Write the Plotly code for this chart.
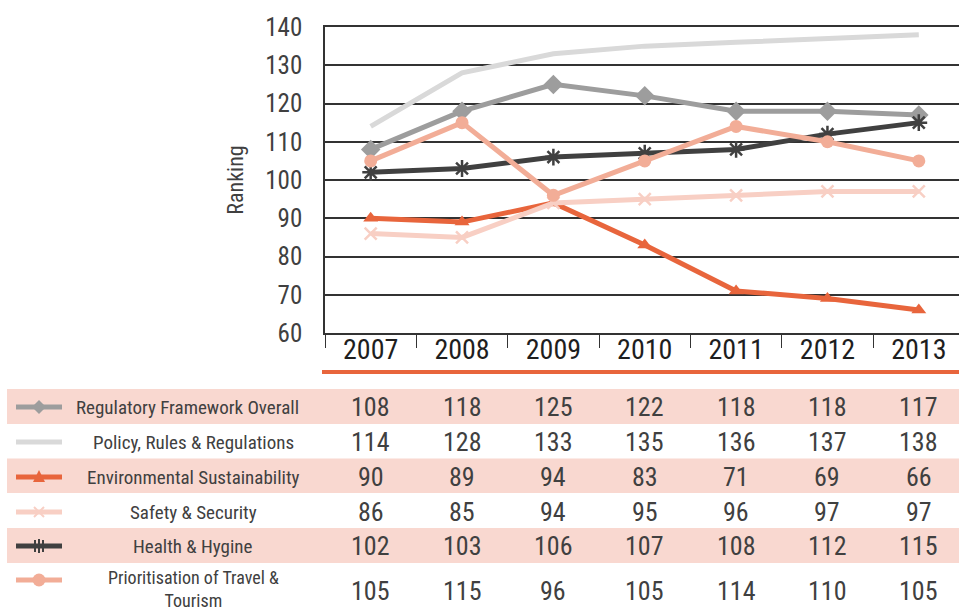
import plotly.graph_objects as go

years = ["2007", "2008", "2009", "2010", "2011", "2012", "2013"]
series_names = [
    "Regulatory Framework Overall",
    "Policy, Rules & Regulations",
    "Environmental Sustainability",
    "Safety & Security",
    "Health & Hygine",
    "Prioritisation of Travel &<br>Tourism",
]
regulatory = [108, 118, 125, 122, 118, 118, 117]
policy = [114, 128, 133, 135, 136, 137, 138]
environmental = [90, 89, 94, 83, 71, 69, 66]
safety = [86, 85, 94, 95, 96, 97, 97]
health = [102, 103, 106, 107, 108, 112, 115]
prioritisation = [105, 115, 96, 105, 114, 110, 105]
y_ticks = [60, 70, 80, 90, 100, 110, 120, 130, 140]

all_values = [regulatory, policy, environmental, safety, health, prioritisation]
colors = ["#9d9d9d", "#d9d9d9", "#e8653c", "#f8cfc4", "#404040", "#f2ad97"]
symbols = ["diamond", None, "triangle-up", "x-thin-open", "asterisk-open", "circle"]
msizes = [15, 0, 13, 12, 14, 13]

FONT = "Liberation Sans Narrow, Roboto Condensed, DejaVu Sans Condensed, Arial Narrow, Roboto, sans-serif"
TXT = "#404040"
PINK = "#f9d8d0"

W, H = 959, 613
L, R, T, B = 325, 0, 27, 280
PW, PH = W - L - R, H - T - B
XR = [-0.5, 6.44]


def px(x):
    return (x - L) / PW


def py(y):
    return (H - B - y) / PH


def cat_paper(i):
    # position of category i on the x axis, as a paper fraction (same range as the axis)
    return (i - XR[0]) / (XR[1] - XR[0])


fig = go.Figure()
for name, vals, c, s, ms in zip(series_names, all_values, colors, symbols, msizes):
    mode = "lines" if s is None else "lines+markers"
    marker = dict(size=ms, color=c, symbol=s or "circle",
                  line=dict(width=2.5 if s in ("x-thin-open", "asterisk-open") else 0, color=c))
    fig.add_trace(go.Scatter(x=years, y=vals, mode=mode, name=name.replace("<br>", " "),
                             line=dict(color=c, width=5), marker=marker,
                             showlegend=False, cliponaxis=False))

shapes = []
annotations = []

# orange separator under years
shapes.append(dict(type="line", xref="paper", yref="paper", x0=px(322), x1=px(960),
                   y0=py(372), y1=py(372), line=dict(color="#e8653c", width=4)))

row_tops = [389, 424, 458.5, 493, 528, 563]
row_bots = [424, 458.5, 493, 528, 563, 613]
row_centers = [407, 442, 477, 512, 546, 591]
for i in (0, 2, 4):
    shapes.append(dict(type="rect", xref="paper", yref="paper", x0=px(7), x1=px(960),
                       y0=py(row_bots[i]), y1=py(row_tops[i]), fillcolor=PINK,
                       line=dict(width=0), layer="below"))

mx = 39
for i, (name, vals, c, s) in enumerate(zip(series_names, all_values, colors, symbols)):
    yc = row_centers[i] if i < 5 else 580
    # legend sample line
    shapes.append(dict(type="line", xref="paper", yref="paper", x0=px(16), x1=px(62),
                       y0=py(yc), y1=py(yc), line=dict(color=c, width=5)))
    if s == "diamond":
        d = 7
        path = f"M {px(mx-d)},{py(yc)} L {px(mx)},{py(yc-d)} L {px(mx+d)},{py(yc)} L {px(mx)},{py(yc+d)} Z"
        shapes.append(dict(type="path", xref="paper", yref="paper", path=path, fillcolor=c, line=dict(width=0)))
    elif s == "triangle-up":
        d = 6
        path = f"M {px(mx-d)},{py(yc+5)} L {px(mx)},{py(yc-7)} L {px(mx+d)},{py(yc+5)} Z"
        shapes.append(dict(type="path", xref="paper", yref="paper", path=path, fillcolor=c, line=dict(width=0)))
    elif s == "x-thin-open":
        d = 5
        path = (f"M {px(mx-d)},{py(yc-d)} L {px(mx+d)},{py(yc+d)} "
                f"M {px(mx-d)},{py(yc+d)} L {px(mx+d)},{py(yc-d)}")
        shapes.append(dict(type="path", xref="paper", yref="paper", path=path, line=dict(color=c, width=2)))
    elif s == "asterisk-open":
        d = 6
        path = (f"M {px(mx-4)},{py(yc-d)} L {px(mx-4)},{py(yc+d)} "
                f"M {px(mx+4)},{py(yc-d)} L {px(mx+4)},{py(yc+d)} "
                f"M {px(mx)},{py(yc-d-1)} L {px(mx)},{py(yc+d+1)}")
        shapes.append(dict(type="path", xref="paper", yref="paper", path=path, line=dict(color=c, width=2)))
    elif s == "circle":
        d = 6.5
        shapes.append(dict(type="circle", xref="paper", yref="paper", x0=px(mx-d), x1=px(mx+d),
                           y0=py(yc+d), y1=py(yc-d), fillcolor=c, line=dict(width=0)))
    # row label
    multi = "<br>" in name
    lx = 187 if i == 0 else 193
    ly = 589 if multi else row_centers[i]
    annotations.append(dict(text=name, xref="paper", yref="paper", x=px(lx), y=py(ly),
                            xanchor="center", yanchor="middle", showarrow=False, align="center",
                            font=dict(family=FONT, size=18 if multi else 19, color=TXT)))
    # values
    for j, v in enumerate(vals):
        annotations.append(dict(text=str(v), xref="paper", yref="paper", x=cat_paper(j), y=py(row_centers[i]),
                                xanchor="center", yanchor="middle", showarrow=False,
                                font=dict(family=FONT, size=26, color=TXT)))

fig.update_layout(
    width=W, height=H,
    margin=dict(l=L, r=R, t=T, b=B, autoexpand=False),
    paper_bgcolor="white", plot_bgcolor="white",
    shapes=shapes, annotations=annotations,
    xaxis=dict(type="category", categoryorder="array", categoryarray=years, automargin=False,
               range=XR, showgrid=False, zeroline=False,
               showline=True, linecolor="#333333", linewidth=1.5, mirror=True,
               ticks="outside", tickson="boundaries", ticklen=13, tickcolor="#333333", tickwidth=1,
               ticklabelstandoff=-9,
               tickfont=dict(family=FONT, size=28, color="#1e1e1e")),
    yaxis=dict(range=[60, 140], tickvals=y_ticks, showgrid=True, gridcolor="#333333", gridwidth=1.5,
               automargin=False,
               zeroline=False, showline=True, linecolor="#333333", linewidth=1.5,
               ticks="outside", ticklen=16, tickcolor="rgba(0,0,0,0)",
               tickfont=dict(family=FONT, size=25, color=TXT),
               title=dict(text="Ranking", font=dict(family=FONT, size=22, color=TXT), standoff=16)),
)

fig.write_html("out.html", config={"displayModeBar": False},
               post_script="document.body.style.margin='0';document.body.style.overflow='hidden';")
